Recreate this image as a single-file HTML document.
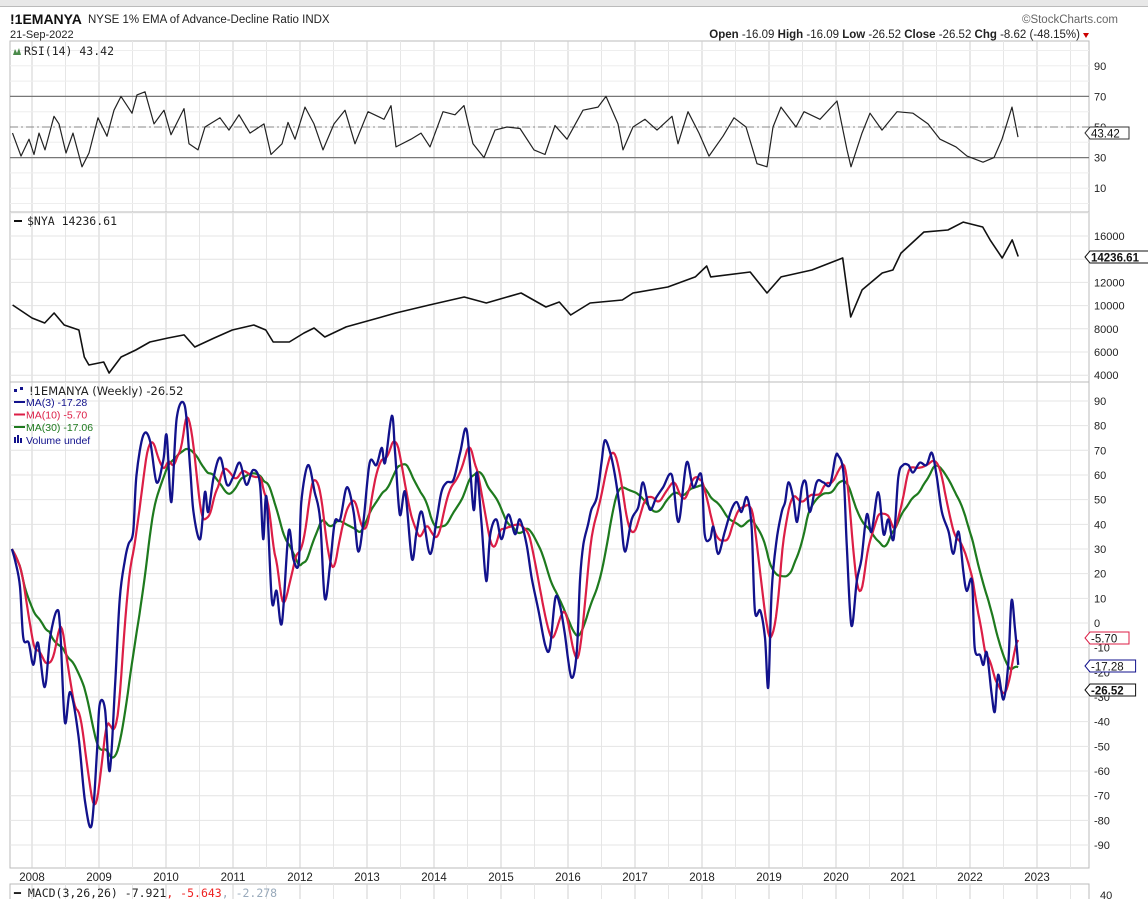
<!DOCTYPE html>
<html><head><meta charset="utf-8"><style>
html,body{margin:0;padding:0;background:#fff;width:1148px;height:899px;overflow:hidden;font-family:"Liberation Sans",sans-serif}
svg{position:absolute;left:0;top:0}
</style></head><body>
<svg id="c" width="1148" height="899" xmlns="http://www.w3.org/2000/svg"></svg>
<script>
// ===== data =====
const mainDates=[2007.70,2007.75,2007.82,2007.87,2007.95,2008.02,2008.09,2008.19,2008.27,2008.37,2008.42,2008.49,2008.57,2008.69,2008.79,2008.89,2008.97,2009.01,2009.09,2009.16,2009.24,2009.31,2009.39,2009.44,2009.51,2009.56,2009.66,2009.76,2009.86,2009.96,2010.01,2010.08,2010.16,2010.28,2010.36,2010.41,2010.51,2010.58,2010.63,2010.71,2010.81,2010.91,2011.00,2011.10,2011.20,2011.30,2011.40,2011.45,2011.50,2011.58,2011.65,2011.73,2011.83,2011.90,2011.98,2012.02,2012.12,2012.22,2012.30,2012.37,2012.45,2012.52,2012.60,2012.70,2012.80,2012.87,2012.95,2013.04,2013.14,2013.22,2013.27,2013.37,2013.42,2013.49,2013.57,2013.67,2013.74,2013.82,2013.94,2014.04,2014.11,2014.19,2014.29,2014.39,2014.49,2014.59,2014.64,2014.71,2014.78,2014.84,2014.93,2015.01,2015.11,2015.21,2015.28,2015.38,2015.46,2015.56,2015.66,2015.73,2015.81,2015.88,2015.95,2016.05,2016.13,2016.18,2016.23,2016.30,2016.35,2016.43,2016.50,2016.55,2016.63,2016.70,2016.78,2016.85,2016.95,2017.05,2017.12,2017.22,2017.32,2017.42,2017.55,2017.65,2017.77,2017.87,2017.99,2018.04,2018.12,2018.17,2018.24,2018.34,2018.44,2018.52,2018.59,2018.67,2018.74,2018.79,2018.87,2018.94,2018.99,2019.04,2019.11,2019.19,2019.24,2019.29,2019.36,2019.42,2019.49,2019.55,2019.61,2019.71,2019.81,2019.91,2019.99,2020.03,2020.11,2020.16,2020.23,2020.31,2020.38,2020.46,2020.53,2020.63,2020.71,2020.78,2020.86,2020.93,2021.00,2021.08,2021.15,2021.25,2021.35,2021.43,2021.50,2021.58,2021.68,2021.75,2021.83,2021.90,2021.95,2022.03,2022.07,2022.15,2022.20,2022.25,2022.32,2022.37,2022.42,2022.50,2022.57,2022.62,2022.67,2022.72];
const ma3Values=[30,25,15,-6,-8,-17,-8,-26,-6,5,-2,-40,-28,-45,-72,-82,-52,-33,-35,-60,-25,10,26,32,37,60,76,74,57,66,76,49,83,88,63,45,34,53,45,59,67,56,59,65,56,62,57,34,51,9,13,0,37,26,24,49,64,53,42,10,24,41,42,55,45,29,42,65,64,71,65,84,69,44,53,26,37,45,28,42,53,57,58,69,78,46,61,40,17,36,42,34,44,36,42,32,18,5,-9,-10,10,7,-4,-22,-12,18,32,40,46,51,65,74,69,60,45,29,42,47,57,46,51,55,60,41,65,55,60,36,34,39,28,37,46,49,45,51,39,5,5,-6,-26,13,33,45,49,57,51,41,55,57,45,57,57,56,67,68,61,32,-1,17,26,44,37,53,36,42,34,59,64,64,61,65,64,69,60,45,37,28,37,21,13,17,-10,-13,-17,-12,-28,-36,-21,-31,-17,9,-2,-17];
const nyaDates=[2007.71,2008.00,2008.19,2008.33,2008.48,2008.70,2008.78,2008.85,2009.07,2009.15,2009.33,2009.55,2009.76,2010.03,2010.27,2010.43,2010.72,2010.99,2011.31,2011.49,2011.60,2011.84,2012.06,2012.21,2012.37,2012.69,2013.06,2013.43,2013.93,2014.45,2014.78,2015.30,2015.67,2015.87,2016.04,2016.33,2016.81,2016.97,2017.49,2017.90,2018.07,2018.13,2018.72,2018.97,2019.18,2019.64,2020.10,2020.22,2020.39,2020.69,2020.85,2020.97,2021.31,2021.67,2021.90,2022.19,2022.30,2022.48,2022.63,2022.72];
const nyaValues=[10050,8930,8500,9360,8330,7900,5570,4880,5140,4190,5570,6170,6860,7210,7470,6430,7210,7900,8330,7900,6860,6860,7640,8070,7290,8160,8760,9360,10050,10740,10220,11090,9880,10310,9190,10220,10480,11090,11600,12470,13410,12470,12900,11090,12470,13070,14100,9020,11350,12810,13070,14530,16340,16520,17200,16780,15660,14100,15660,14237];
const rsiX=[12.5,21,29,34,39,45,54,59,66,73,82,89,98,107,114,121,132,137,145,154,164,171,184,189,198,205,220,229,239,250,264,271,282,288,295,305,314,323,334,345,355,368,384,391,396,411,421,430,443,455,464,473,484,495,507,520,534,545,555,567,583,598,606,618,623,633,645,657,672,678,688,699,709,723,734,746,757,767,773,781,796,804,820,837,847,851,862,870,882,897,913,928,940,956,967,983,994,1002,1012,1018];
const rsiValues=[46,31,42,32,46,35,57,52,33,46,24,33,56,44,61,70,59,71,73,52,61,45,62,39,35,50,56,48,58,46,52,32,39,53,42,63,52,35,52,61,39,60,55,64,37,42,46,37,60,58,64,39,30,48,50,49,35,32,51,42,61,63,70,52,35,50,55,48,57,39,60,46,31,44,56,50,26,24,50,63,50,60,55,67,35,24,46,59,48,60,59,52,42,37,31,27,30,42,63,43.42];
const mainTicks=[90,80,70,60,50,40,30,20,10,0,-10,-20,-30,-40,-50,-60,-70,-80,-90];
const rsiTicks=[90,70,50,30,10];
const nyaTicks=[16000,12000,10000,8000,6000,4000];
const yearLabels=[2008,2009,2010,2011,2012,2013,2014,2015,2016,2017,2018,2019,2020,2021,2022,2023];

// ===== axes =====
const L=10,R=1089;
const xY=y=>32+(y-2008)*67;
const yMain=v=>623-v*2.467;
const yRsi=v=>127-(v-50)*1.53;
const yNya=v=>236+(16000-v)*0.0116;
const svg=document.getElementById('c');
const NS='http://www.w3.org/2000/svg';
function el(t,a,p){const e=document.createElementNS(NS,t);for(const k in a)e.setAttribute(k,a[k]);(p||svg).appendChild(e);return e;}
function txt(s,x,y,a,p){const e=el('text',Object.assign({x:x,y:y,'font-size':11,fill:'#222'},a||{}),p);e.textContent=s;return e;}

el('rect',{x:0,y:0,width:1148,height:6,fill:'#e8e8e8'});
el('line',{x1:0,y1:6.5,x2:1148,y2:6.5,stroke:'#bbb'});
let t=txt('!1EMANYA',10,24,{'font-size':14,'font-weight':'bold',fill:'#111'});

t=txt('NYSE 1% EMA of Advance-Decline Ratio INDX',88,23,{'font-size':11.5});

t=txt('21-Sep-2022',10,38,{'font-size':11});

t=txt('©StockCharts.com',1118,23,{'font-size':11.5,'text-anchor':'end',fill:'#666'});

const hdr=el('text',{x:1080,y:38,'font-size':11.5,'text-anchor':'end',fill:'#222'});

hdr.innerHTML='<tspan font-weight="bold">Open</tspan> -16.09 <tspan font-weight="bold">High</tspan> -16.09 <tspan font-weight="bold">Low</tspan> -26.52 <tspan font-weight="bold">Close</tspan> -26.52 <tspan font-weight="bold">Chg</tspan> -8.62 (-48.15%)';
el('path',{d:'M1083 33 l6 0 l-3 5 z',fill:'#c00'});

const panels=[[41,212,'rsi-panel'],[212,382,'nya-panel'],[382,868,'ema-panel'],[884,905,'macd-panel']];
for(const [a,b,n] of panels){
  const g=el('g',{});
  el('rect',{x:L,y:a,width:R-L,height:b-a,fill:'#fff',stroke:'#bbb'},g);
  for(let yr=2008;yr<=2023.5;yr+=0.5){const x=xY(yr);if(x<R)el('line',{x1:x,y1:a,x2:x,y2:b,stroke:yr%1===0?'#d0d0d0':'#e6e6e6'},g);}
}
for(let v=90;v>=-90;v-=10){el('line',{x1:L,y1:yMain(v),x2:R,y2:yMain(v),stroke:'#e4e4e4'});}
for(let v=0;v<=100;v+=10){el('line',{x1:L,y1:yRsi(v),x2:R,y2:yRsi(v),stroke:'#eeeeee'});}
for(let v=4000;v<=18000;v+=2000){const y=yNya(v);if(y>212&&y<382)el('line',{x1:L,y1:y,x2:R,y2:y,stroke:'#e4e4e4'});}
el('line',{x1:L,y1:yRsi(70),x2:R,y2:yRsi(70),stroke:'#777','stroke-width':1.2});
el('line',{x1:L,y1:yRsi(30),x2:R,y2:yRsi(30),stroke:'#777','stroke-width':1.2});
el('line',{x1:L,y1:yRsi(50),x2:R,y2:yRsi(50),stroke:'#888','stroke-dasharray':'8 3 2 3'});
for(const v of rsiTicks)txt(String(v),1094,yRsi(v)+4,{'font-size':11});
for(const v of nyaTicks)txt(String(v),1094,yNya(v)+4,{'font-size':11});
for(const v of mainTicks)txt(String(v),1094,yMain(v)+4,{'font-size':11});
txt('40',1100,899,{'font-size':11});
for(const yr of yearLabels){const e=txt(String(yr),xY(yr),881,{'font-size':11.5,'text-anchor':'middle'});
  }

function smoothPath(xs,ys){let d='M'+xs[0].toFixed(1)+' '+ys[0].toFixed(1);
  for(let i=0;i<xs.length-1;i++){const x0=xs[Math.max(0,i-1)],y0=ys[Math.max(0,i-1)],x1=xs[i],y1=ys[i],x2=xs[i+1],y2=ys[i+1],x3=xs[Math.min(xs.length-1,i+2)],y3=ys[Math.min(xs.length-1,i+2)];
    d+=` C${(x1+(x2-x0)/6).toFixed(1)} ${(y1+(y2-y0)/6).toFixed(1)} ${(x2-(x3-x1)/6).toFixed(1)} ${(y2-(y3-y1)/6).toFixed(1)} ${x2.toFixed(1)} ${y2.toFixed(1)}`;}
  return d;}
function line(xs,ys,attrs,name,smooth){let p;
  if(smooth)p=el('path',Object.assign({d:smoothPath(xs,ys),fill:'none','stroke-linejoin':'round'},attrs));
  else p=el('polyline',Object.assign({points:xs.map((x,i)=>x.toFixed(1)+','+ys[i].toFixed(1)).join(' '),fill:'none','stroke-linejoin':'round'},attrs));
  return p;}

line(rsiX,rsiValues.map(yRsi),{stroke:'#222','stroke-width':1.2},'rsi-line');
line(nyaDates.map(xY),nyaValues.map(yNya),{stroke:'#111','stroke-width':1.6},'nya-line');

function interp(d){let i=0;while(i<mainDates.length-2&&mainDates[i+1]<d)i++;
  const a=mainDates[i],b=mainDates[i+1];const f=Math.max(0,Math.min(1,(d-a)/(b-a)));return ma3Values[i]+(ma3Values[i+1]-ma3Values[i])*f;}
const wk=[],wv=[];for(let d=mainDates[0];d<=mainDates[mainDates.length-1]+1e-6;d+=1/52){wk.push(d);wv.push(interp(d));}
function ma(n){return wv.map((_,i)=>{const s=Math.max(0,i-n+1);let t=0;for(let j=s;j<=i;j++)t+=wv[j];return t/(i-s+1);});}
const ma10=ma(10),ma30=ma(30);
line(wk.map(xY),ma30.map(yMain),{stroke:'#1e7a1e','stroke-width':2.2},'ma30-line',false);
line(wk.map(xY),ma10.map(yMain),{stroke:'#dc1e46','stroke-width':2.2},'ma10-line',false);
line(mainDates.map(xY),ma3Values.map(yMain),{stroke:'#12128c','stroke-width':2.3},'ma3-line',true);

const lg=el('g',{});
el('path',{d:'M13 55 l2 -6 l2 4 l2 -5 l2 7 z',fill:'#4a8a4a'},lg);
txt('RSI(14) 43.42',24,55,{'font-size':11.5,'font-family':'DejaVu Sans Mono, monospace'},lg);
el('line',{x1:14,y1:221,x2:22,y2:221,stroke:'#111','stroke-width':2});
t=txt('$NYA 14236.61',27,225,{'font-size':11.5,'font-family':'DejaVu Sans Mono, monospace'});

const ml=el('g',{});
el('rect',{x:14,y:389,width:3,height:3,fill:'#12128c'},ml);el('rect',{x:20,y:387,width:3,height:3,fill:'#12128c'},ml);
txt('!1EMANYA (Weekly) -26.52',29,395,{'font-size':11.5,'font-family':'DejaVu Sans, sans-serif'},ml);
const lgs=[['MA(3) -17.28','#12128c'],['MA(10) -5.70','#dc1e46'],['MA(30) -17.06','#1e7a1e']];
lgs.forEach((l,i)=>{const y=406+i*12.5;el('line',{x1:14,y1:y-4,x2:25,y2:y-4,stroke:l[1],'stroke-width':2},ml);txt(l[0],26,y,{'font-size':10.5,fill:l[1]},ml);});
el('rect',{x:14,y:437,width:2,height:6,fill:'#12128c'},ml);el('rect',{x:17,y:435,width:2,height:8,fill:'#12128c'},ml);el('rect',{x:20,y:438,width:2,height:5,fill:'#12128c'},ml);
txt('Volume undef',26,444,{'font-size':10.5,fill:'#12128c'},ml);
const mc=txt('',14,897,{'font-size':11.5,'font-family':'DejaVu Sans Mono, monospace'});
mc.innerHTML='<tspan>━ MACD(3,26,26) -7.921</tspan><tspan fill="#e22">, -5.643</tspan><tspan fill="#9ab">, -2.278</tspan>';


function tag(s,y,col,bold,name){const g=el('g',{});
  const w=s.length*6.6+6;el('path',{d:`M1085 ${y} l5 -6 h${w} v12 h-${w} z`,fill:'#fff',stroke:col,'stroke-width':1},g);
  txt(s,1091,y+4.5,{'font-size':11.5,fill:'#111','font-weight':bold?'bold':'normal'},g);}
tag('43.42',133,'#333',false,'rsi-value-tag');
tag('14236.61',257,'#111',true,'nya-value-tag');
tag('-5.70',638,'#dc1e46',false,'ma10-value-tag');
tag('-17.28',666,'#12128c',false,'ma3-value-tag');
tag('-26.52',690,'#111',true,'close-value-tag');
</script>
</body></html>
